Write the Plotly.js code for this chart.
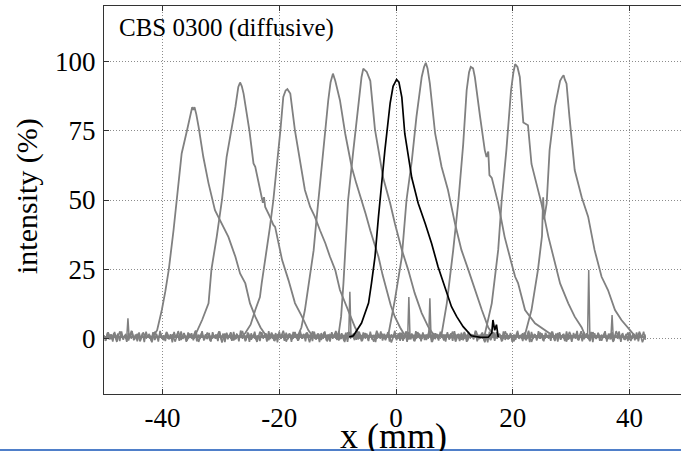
<!DOCTYPE html>
<html>
<head>
<meta charset="utf-8">
<script src="https://cdn.plot.ly/plotly-3.0.1.min.js"></script>
<style>
html,body{margin:0;padding:0;overflow:hidden;background:#fff;}
#chart{width:690px;height:451px;}
</style>
</head>
<body>
<div id="chart"></div>
<script>
// ---- data ----
const xTickVals = [-40, -20, 0, 20, 40];
const yTickVals = [0, 25, 50, 75, 100];
const chartLabel = "CBS 0300 (diffusive)";
const xTitle = "x (mm)";
const yTitle = "intensity (%)";

// gray profiles (left baseline edge, peak, right baseline edge)
const p1x = [-50,-41.6,-40.9,-40.1,-39.5,-38.9,-38.1,-37.5,-36.7,-35.8,-35.2,-34.9,-34.7,-34.5,-34.2,-33.8,-33.0,-32.1,-31.0,-29.8,-28.7,-27.5,-26.7,-25.8,-25.0,-24.1,-23.2,-22.3,42.8];
const p1y = [0.5,0.8,3,10.3,17,25,39,50,66.8,75,81,83.5,82.5,83.5,81,76.4,65.6,56,46.3,41.5,36.7,29.5,23.5,19.9,12.7,7.9,4,1.2,0.5];

const p2x = [-50,-34.6,-34.1,-33.2,-32.1,-31.6,-30.7,-29.8,-29.0,-28.2,-27.5,-27.0,-26.7,-26.4,-26.1,-25.1,-24.4,-24.1,-23.3,-22.8,-22.6,-22.4,-21.6,-21.0,-20.7,-20.1,-19.5,-18.4,-17.3,-16.1,-15.0,-14.3,42.8];
const p2y = [0.5,0.8,2.5,6.7,12.7,25,36.7,50,65.6,75,83.6,90.8,92.4,91,88.4,75,63.2,62,53.6,49,51,47.5,44,41,40.3,34.3,28.3,21,12.8,7.9,3,1,0.5];

const p3x = [-50,-26.4,-25.8,-24.9,-24.1,-23.3,-23.0,-22.1,-21.6,-21.0,-20.4,-19.8,-19.3,-18.9,-18.6,-18.1,-17.3,-16.4,-15.6,-14.7,-13.9,-13.0,-12.1,-11.3,-10.4,-9.6,-8.7,-7.9,-7.0,-6.2,42.8];
const p3y = [0.5,0.8,2,5,10.3,15,19.9,32,40,50,62,75,87.2,89.5,90,88.4,75,64.4,53.6,47.5,44,39,34.4,29.5,24.7,17.5,12.7,9,4,1,0.5];

const p4x = [-50,-17.3,-16.7,-16.2,-15.6,-14.9,-14.1,-13.7,-13.3,-12.9,-12.4,-12.0,-11.6,-11.2,-10.8,-10.4,-10.2,-9.9,-9.6,-8.7,-8.2,-7.6,-6.8,-5.9,-5.2,-4.4,-3.7,-3.0,-2.3,-1.6,-0.9,-0.2,0.7,1.5,42.8];
const p4y = [0.5,0.8,1.5,4,10.3,20,31.9,41,50,58,68,78,86,92.5,95.6,93,91.5,89,86,74,68,62,56,50,45,39,34,29.5,23,17.5,12,7.9,4,1.2,0.5];

const p5x = [-50,-10.2,-9.8,-9.4,-9.0,-8.6,-8.2,-7.3,-6.4,-5.9,-5.6,-5.0,-4.4,-4.0,-3.6,-2.9,-2.2,-1.0,-0.2,1.0,2.1,3.2,4.4,5.5,6.5,42.8];
const p5y = [0.5,0.8,2,7.9,19.9,34.3,50,68,86,94.4,97.4,96.2,93,83.6,75.4,66.8,58,48.8,41.6,32,24.7,16.4,9.2,4.3,1.2,0.5];

const p6x = [-50,-1.8,-1.3,-0.2,1.0,1.8,2.7,3.5,4.4,4.8,5.1,5.4,5.8,6.7,7.8,8.9,10.1,11.2,12.4,13.5,14.7,15.8,16.8,42.8];
const p6y = [0.5,0.8,1.5,13.9,29.5,50,64,80,94.4,98,99.5,97.5,92,74,62,53.6,41.5,32,24.7,17.5,10.3,4,1,0.5];

const p7x = [-50,7.2,7.8,8.7,9.8,10.7,11.5,12.1,12.5,12.8,13.2,13.5,14.4,15.2,15.5,15.8,16.0,16.4,17.5,18.6,19.8,20.4,20.9,22.1,23.8,25.5,26.9,42.8];
const p7y = [0.5,0.8,1.5,12.7,32,50,70,89.6,96,98,97.5,94.4,80,68,65.5,67.5,59,58,48.8,36.7,27,22.3,20,10.3,5.5,3,1,0.5];

const p8x = [-50,14.6,15.2,16.4,17.5,18.1,18.9,19.7,20.1,20.4,20.8,21.2,21.8,22.6,23.2,24.1,24.9,26.1,27.2,28.1,29.5,30.6,31.8,32.4,42.8];
const p8y = [0.5,0.8,1.5,12.7,32,50,68,89.6,96,99,98,94.4,78,77,63,56,48.8,36.7,27,19.9,12.7,7.9,4,1,0.5];

const p9x = [-50,21.5,22.1,23.2,24.3,25.0,25.2,25.35,25.8,26.3,27.2,28.1,28.5,28.7,28.9,29.2,29.7,30.6,31.8,32.9,34.0,35.2,36.3,37.5,38.6,39.7,40.9,42.8];
const p9y = [0.5,0.8,1.5,10.3,24.7,37,51,43,48.8,68,83.6,93,94.5,95,93.5,92,80,60.8,51,44,32,22.3,17.5,10.3,6.7,4,1,0.5];

// black profile
const pbx = [-8.0,-7.3,-5.9,-4.7,-4.2,-3.6,-3.0,-2.4,-1.9,-1.0,-0.5,0.1,0.5,1.0,1.5,2.7,3.8,5.0,6.1,7.2,8.4,9.5,10.4,11.5,12.9,14.5,15.8,16.4,16.6,16.9,17.2,17.5];
const pby = [0.6,1,5.6,12.8,19.9,29.5,44,58,68,85,91,93.5,92.5,87,74,58,48.8,41.5,34.3,25.9,18.7,11.5,7.9,4.3,1,0.4,0.5,2,6.7,3,5,0.5];

// isolated spikes in the baseline (null separates them)
const spikeX = [-46.1,-45.9,-45.7,null,-8.1,-7.9,-7.7,null,2.0,2.2,2.4,null,5.6,5.8,6.0,null,32.8,33.0,33.2,null,36.8,37.0,37.2];
const spikeY = [0.5,7.3,0.5,null,0.5,16.9,0.5,null,0.5,15,0.5,null,0.5,14.5,0.5,null,0.5,24.7,0.5,null,0.5,8.5,0.5];

// baseline noise band A (every 0.3 mm from -50 mm)
const noiseA = [
1.2,-0.8,2.1,-0.3,1.6,-1.1,2.4,0.2,1.8,-0.9,2.6,-0.4,1.3,-1.2,2.0,0.1,2.7,-0.6,1.5,-1.0,
2.2,-0.2,1.9,-1.3,2.5,0.3,1.4,-0.7,2.3,-0.5,1.7,-1.1,2.8,0.0,1.2,-0.9,2.1,-0.3,1.6,-1.4,
2.4,0.4,1.8,-0.8,2.6,-0.1,1.1,-1.2,2.2,0.2,1.9,-0.6,2.5,-1.0,1.4,0.3,2.7,-0.7,1.6,-0.2,
2.0,-1.1,2.3,0.1,1.5,-0.9,2.6,-0.4,1.8,-1.3,2.1,0.5,1.3,-0.8,2.4,-0.3,1.7,-1.0,2.9,0.0,
1.4,-0.6,2.2,-1.2,1.9,0.2,2.5,-0.5,1.2,-0.9,2.3,0.4,1.6,-1.1,2.7,-0.2,1.8,-0.7,2.0,-1.4,
2.6,0.1,1.5,-0.8,2.1,-0.3,1.9,-1.2,2.4,0.3,1.3,-0.6,2.8,-0.1,1.7,-1.0,2.2,0.2,1.4,-0.9,
2.5,-0.4,1.8,-1.3,2.0,0.0,2.6,-0.7,1.5,-1.1,2.3,0.4,1.9,-0.5,2.7,-0.2,1.2,-0.8,2.1,-1.2,
2.4,0.2,1.6,-0.6,2.9,-0.3,1.4,-1.0,2.2,0.1,1.8,-0.9,2.5,-0.4,1.3,-1.3,2.0,0.3,2.6,-0.7,
1.7,-0.1,2.3,-1.1,1.5,0.4,2.8,-0.6,1.9,-0.8,2.1,0.0,1.6,-1.2,2.4,-0.3,1.2,-0.9,2.7,0.2,
1.8,-1.0,2.2,-0.5,1.4,0.1,2.6,-1.3,2.0,-0.2,1.7,-0.7,2.5,0.3,1.3,-1.1,2.3,-0.4,1.9,-0.8,
2.7,0.0,1.5,-0.9,2.1,-0.6,1.8,-1.2,2.4,0.2,1.6,-0.3,2.9,-1.0,1.2,0.1,2.2,-0.7,1.7,-1.4,
2.5,-0.2,1.9,-0.8,2.3,0.4,1.4,-1.1,2.6,-0.5,1.8,0.0,2.0,-1.2,1.5,-0.4,2.8,0.2,1.3,-0.9,
2.2,-0.6,1.7,-1.3,2.4,0.1,1.6,-0.7,2.7,-0.1,1.9,-1.0,2.1,0.3,1.4,-0.8,2.5,-0.3,1.8,-1.1,
2.3,0.2,1.5,-0.9,2.6,-0.4,1.2,-1.2,2.0,0.0,2.8,-0.6,1.7,-1.0,2.2,0.4,1.6,-0.5,2.4,-1.3,
1.9,-0.2,2.1,-0.8,1.4,0.3,2.7,-1.1,1.8,-0.3,2.3,-0.7,1.5,0.1,2.6,-1.2,2.0,-0.4,1.7,-0.9,
2.4,0.0,1.6,-0.6,2.2,-1.0,1.9,0.2,2.5,-0.5
];

// baseline noise band B (every 0.5 mm from -49.8 mm)
const noiseB = [
-0.9,2.3,-0.2,1.9,-1.2,2.6,0.1,1.4,-0.7,2.8,-0.4,1.7,-1.0,2.2,0.3,1.5,-1.3,2.5,-0.1,1.8,
-0.6,2.4,0.2,1.3,-1.1,2.7,-0.5,2.0,-0.8,1.6,0.4,2.9,-1.2,1.9,-0.3,2.2,-0.9,1.4,0.0,2.6,
-1.4,1.8,-0.2,2.3,-0.7,1.5,0.3,2.7,-1.0,2.0,-0.4,1.6,-1.2,2.5,0.1,1.9,-0.6,2.2,-0.9,1.3,
0.2,2.8,-1.1,1.7,-0.3,2.4,-0.8,1.5,0.4,2.1,-1.3,2.6,-0.1,1.8,-0.5,2.3,-1.0,1.4,0.0,2.7,
-0.7,1.9,-1.2,2.2,0.3,1.6,-0.4,2.5,-0.9,2.0,-0.2,1.3,-1.1,2.8,0.1,1.7,-0.6,2.4,-1.4,1.5,
0.2,2.1,-0.8,2.6,-0.3,1.8,-1.0,2.3,0.4,1.4,-0.5,2.9,-1.2,1.9,-0.1,2.2,-0.7,1.6,0.0,2.5,
-1.1,1.7,-0.4,2.4,-0.9,1.3,0.3,2.7,-0.2,2.0,-1.3,1.5,-0.6,2.3,0.1,1.8,-0.8,2.6,-0.3,1.4,
-1.0,2.1,0.2,1.9,-0.5,2.8,-1.2,1.6,-0.1,2.2,-0.7,1.5,0.4,2.5,-0.9,2.0,-0.4,1.7,-1.1,2.4,
0.0,1.3,-0.6,2.6,-0.2,1.9,-1.0,2.3,0.3,1.6,-0.8,2.1,-0.3,1.8,-1.2,2.7,0.1,1.4,-0.5,2.2,
-0.9,1.7,-0.1,2.5,-1.3,1.5
];

// ---- drawing ----
const GRAY = "rgb(128,128,128)";
const serif = "Liberation Serif, Times New Roman, serif";
const grayX = [p1x,p2x,p3x,p4x,p5x,p6x,p7x,p8x,p9x];
const grayY = [p1y,p2y,p3y,p4y,p5y,p6y,p7y,p8y,p9y];

const traces = [];
for (let i = 0; i < grayX.length; i++) {
  traces.push({x: grayX[i], y: grayY[i], type: "scatter", mode: "lines",
    line: {color: GRAY, width: 1.8}, hoverinfo: "skip", showlegend: false});
}
traces.push({x: spikeX, y: spikeY, type: "scatter", mode: "lines", connectgaps: false,
  line: {color: GRAY, width: 1.5}, hoverinfo: "skip", showlegend: false});
traces.push({y: noiseB, x0: -49.8, dx: 0.5, type: "scatter", mode: "lines",
  line: {color: GRAY, width: 1.6}, hoverinfo: "skip", showlegend: false});
traces.push({y: noiseA, x0: -50, dx: 0.3, type: "scatter", mode: "lines",
  line: {color: GRAY, width: 1.6}, hoverinfo: "skip", showlegend: false});
traces.push({x: pbx, y: pby, type: "scatter", mode: "lines",
  line: {color: "#000000", width: 1.7}, hoverinfo: "skip", showlegend: false});

const axisCommon = {
  showline: true, linecolor: "#333333", linewidth: 1,
  mirror: "ticks", ticks: "inside", ticklen: 5, tickwidth: 1, tickcolor: "#333333",
  showgrid: true, gridcolor: "#8c8c8c", gridwidth: 1, griddash: "1px,2px",
  zeroline: false,
  tickfont: {family: serif, size: 27, color: "#000"}
};

const layout = {
  width: 690, height: 451,
  margin: {l: 104, r: 2, t: 6, b: 57},
  paper_bgcolor: "#ffffff", plot_bgcolor: "#ffffff",
  xaxis: Object.assign({}, axisCommon, {range: [-50, 50], tickmode: "array", tickvals: xTickVals,
    ticktext: xTickVals.map(String), ticklabelstandoff: 0}),
  yaxis: Object.assign({}, axisCommon, {range: [-20, 120], tickmode: "array", tickvals: yTickVals,
    ticktext: yTickVals.map(String), ticklabelstandoff: 2}),
  annotations: [
    {text: chartLabel, xref: "paper", yref: "paper", x: 0.0223, y: 0.9435,
     xanchor: "left", yanchor: "middle", showarrow: false,
     font: {family: serif, size: 25, color: "#000"}},
    {text: xTitle, xref: "paper", yref: "paper", x: 0.4957, y: -0.1072,
     xanchor: "center", yanchor: "middle", showarrow: false,
     font: {family: serif, size: 36, color: "#000"}},
    {text: yTitle, xref: "paper", yref: "paper", x: 0, xshift: -77, y: 0.5103,
     xanchor: "center", yanchor: "middle", textangle: -90, showarrow: false,
     font: {family: serif, size: 30, color: "#000"}}
  ],
  shapes: [
    {type: "rect", xref: "paper", yref: "paper", x0: -0.2, x1: 1.1,
     y0: -0.1495, y1: -0.1418, fillcolor: "#4f7fc9", line: {width: 0}, layer: "above"}
  ]
};

Plotly.newPlot("chart", traces, layout, {staticPlot: true, displayModeBar: false});
</script>
</body>
</html>
